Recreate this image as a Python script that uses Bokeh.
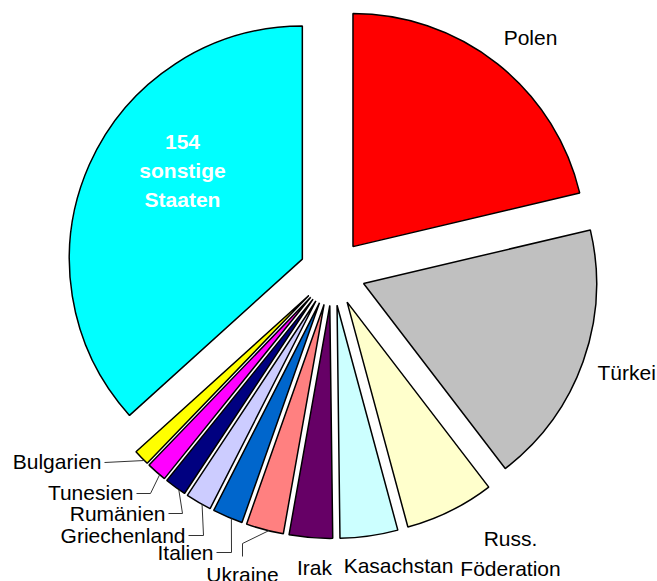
import numpy as np
from bokeh.plotting import figure
from bokeh.models import ColumnDataSource, Range1d
from bokeh.core.properties import value
from bokeh.embed import file_html
from bokeh.resources import INLINE

# ---- data -------------------------------------------------------------
countries = ["Polen", "Türkei", "Russ.\nFöderation", "Kasachstan", "Irak", "Ukraine",
             "Italien", "Griechenland", "Rumänien", "Tunesien", "Bulgarien",
             "154\nsonstige\nStaaten"]
shares = [21.3, 18.3, 6.2, 4.0, 3.0, 2.6, 2.1, 1.8, 1.5, 1.4, 1.1, 36.7]
colors = ["#FF0000", "#C0C0C0", "#FFFFCC", "#CCFFFF", "#660066", "#FF8080",
          "#0066CC", "#CCCCFF", "#000080", "#FF00FF", "#FFFF00", "#00FFFF"]

# ---- layout -----------------------------------------------------------
W, H, MARGIN = 657, 581, 0
CX, CY = 332, 272          # pie centre in page pixels
R = 233                    # radius in pixels
EXPLODE = 33               # explosion distance in pixels
FONT = value("Liberation Sans")
FS = "21px"


def dx(px):
    return px - CX


def dy(py):
    return CY - py


# label placement (page pixels): x, y, align, line gap, leader polyline start points
label_layout = {
    "Polen": (530, 37, "center", 0, None),
    "Türkei": (597, 372, "left", 0, None),
    "Russ.\nFöderation": (510, 553, "center", 30, None),
    "Kasachstan": (398, 565, "center", 0, None),
    "Irak": (314, 567, "center", 0, None),
    "Ukraine": (242, 574, "center", 0, [(242, 556), (242, 543)]),
    "Italien": (213, 552, "right", 0, [(216, 552), (231, 552)]),
    "Griechenland": (185, 535, "right", 0, [(188, 535), (203, 535)]),
    "Rumänien": (165, 513, "right", 0, [(168, 513), (182, 513)]),
    "Tunesien": (133, 492, "right", 0, [(136, 493), (150, 493)]),
    "Bulgarien": (101, 461, "right", 0, [(104, 462)]),
    "154\nsonstige\nStaaten": (182, 170, "center", 28.5, None),
}

vals = np.array(shares, dtype=float)
frac = vals / vals.sum()
ends = np.cumsum(frac) * 360.0
starts = ends - frac * 360.0
mids = (starts + ends) / 2.0
ox = EXPLODE * np.sin(np.radians(mids))
oy = EXPLODE * np.cos(np.radians(mids))

src = ColumnDataSource(dict(
    x=ox, y=oy,
    sa=np.radians(90.0 - ends), ea=np.radians(90.0 - starts),
    color=colors, name=countries,
))

p = figure(width=W, height=H, output_backend="svg", toolbar_location=None,
           x_range=Range1d(dx(MARGIN), dx(MARGIN + W)),
           y_range=Range1d(dy(MARGIN + H), dy(MARGIN)),
           min_border=0, outline_line_color=None, background_fill_color="white",
           border_fill_color="white")
p.axis.visible = False
p.grid.visible = False

p.wedge(x="x", y="y", radius=R, start_angle="sa", end_angle="ea",
        direction="anticlock", fill_color="color", line_color="black",
        line_width=1.5, source=src)

# leader lines
lx, ly = [], []
for i, name in enumerate(countries):
    lay = label_layout[name]
    pts = lay[4]
    if pts is None:
        continue
    a = np.radians(mids[i] - 1.0)
    ex = ox[i] + R * np.sin(a)
    ey = oy[i] + R * np.cos(a)
    lx.append([dx(px) for px, _ in pts] + [ex])
    ly.append([dy(py) for _, py in pts] + [ey])
p.multi_line(xs=lx, ys=ly, line_color="#333333", line_width=1)

# labels
groups = {}
for name in countries:
    x, y, align, gap, _ = label_layout[name]
    lines = name.split("\n")
    n = len(lines)
    white = name.startswith("154")
    key = (align, white)
    g = groups.setdefault(key, dict(x=[], y=[], t=[]))
    for k, line in enumerate(lines):
        g["x"].append(dx(x))
        g["y"].append(dy(y + (k - (n - 1) / 2.0) * gap))
        g["t"].append(line)

for (align, white), g in groups.items():
    p.text(x=g["x"], y=g["y"], text=g["t"], text_font=FONT,
           text_font_size="21px" if white else FS,
           text_font_style="bold" if white else "normal",
           text_color="white" if white else "black",
           text_align=align, text_baseline="middle")

open("out.html", "w").write(file_html(p, INLINE))
